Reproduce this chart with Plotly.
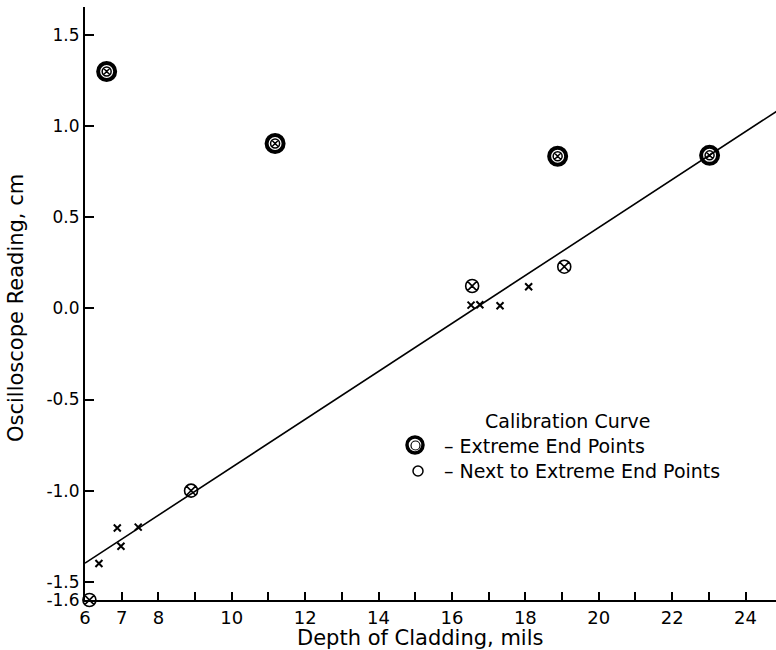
import plotly.graph_objects as go

# Data
extreme_x = [6.59, 11.18, 18.88, 23.02]
extreme_y = [1.30, 0.905, 0.835, 0.84]

next_x = [6.12, 8.89, 16.55, 19.06]
next_y = [-1.60, -1.00, 0.123, 0.229]

cross_x = [6.38, 6.88, 6.98, 7.45, 16.52, 16.76, 17.31, 18.09]
cross_y = [-1.40, -1.205, -1.305, -1.20, 0.018, 0.020, 0.015, 0.119]

curve_x = [6.0, 24.85]
curve_y = [-1.398, 1.082]

x_tickvals = list(range(6, 25))
x_ticktext = ["6", "7", "8", "", "10", "", "12", "", "14", "", "16", "", "18", "",
              "20", "", "22", "", "24"]
y_tickvals = [-1.6, -1.5, -1.0, -0.5, 0.0, 0.5, 1.0, 1.5]
y_ticktext = ["-1.6", "-1.5", "-1.0", "-0.5", "0.0", "0.5", "1.0", "1.5"]

FONT = "DejaVu Sans"

fig = go.Figure()
fig.add_trace(go.Scatter(x=curve_x, y=curve_y, mode="lines",
                         line=dict(color="black", width=1.6), cliponaxis=False))
fig.add_trace(go.Scatter(x=cross_x, y=cross_y, mode="markers",
                         marker=dict(symbol="x-thin-open", size=7, color="black",
                                     line=dict(color="black", width=2))))
fig.add_trace(go.Scatter(x=next_x, y=next_y, mode="markers", cliponaxis=False,
                         marker=dict(symbol="circle-x-open", size=13, color="black",
                                     line=dict(color="black", width=1.6))))
fig.add_trace(go.Scatter(x=extreme_x, y=extreme_y, mode="markers",
                         marker=dict(symbol="circle-open", size=17, color="black",
                                     line=dict(color="black", width=4))))
fig.add_trace(go.Scatter(x=extreme_x, y=extreme_y, mode="markers",
                         marker=dict(symbol="circle-x-open", size=9, color="black",
                                     line=dict(color="black", width=1.5))))

L, T, B = 85, 7, 50
PW, PH = 776 - L, 650 - T - B


def px(xp):
    return (xp - L) / PW


def py(yp):
    return (650 - B - yp) / PH


LEG = dict(family=FONT, size=19, color="black")
# Legend block
fig.add_annotation(x=px(567), y=py(421), xref="paper", yref="paper",
                   text="Calibration Curve", showarrow=False, font=LEG,
                   xanchor="center", yanchor="middle")
fig.add_annotation(x=px(442), y=py(446), xref="paper", yref="paper",
                   text="– Extreme End Points", showarrow=False, font=LEG,
                   xanchor="left", yanchor="middle")
fig.add_annotation(x=px(442), y=py(471), xref="paper", yref="paper",
                   text="– Next to Extreme End Points", showarrow=False, font=LEG,
                   xanchor="left", yanchor="middle")
# legend glyphs
fig.add_shape(type="circle", xref="paper", yref="paper",
              x0=px(407), x1=px(423), y0=py(453), y1=py(437),
              line=dict(color="black", width=3.5))
fig.add_shape(type="circle", xref="paper", yref="paper",
              x0=px(411), x1=px(420), y0=py(450), y1=py(441),
              line=dict(color="black", width=1.2))
fig.add_shape(type="circle", xref="paper", yref="paper",
              x0=px(413), x1=px(423), y0=py(476), y1=py(466),
              line=dict(color="black", width=1.5))

# Axis titles
TITLE = dict(family=FONT, size=21, color="black")
fig.add_annotation(x=px(420), y=py(638), xref="paper", yref="paper",
                   text="Depth of Cladding, mils", showarrow=False, font=TITLE,
                   xanchor="center", yanchor="middle")
fig.add_annotation(x=px(16), y=py(308), xref="paper", yref="paper",
                   text="Oscilloscope Reading, cm", showarrow=False, font=TITLE,
                   textangle=-90, xanchor="center", yanchor="middle")

fig.update_layout(
    width=776, height=650,
    margin=dict(l=L, r=0, t=T, b=B),
    paper_bgcolor="white", plot_bgcolor="white",
    showlegend=False,
    font=dict(family=FONT, size=18, color="black"),
    xaxis=dict(range=[6, 24.83], tickvals=x_tickvals, ticktext=x_ticktext,
               ticks="inside", ticklen=8, tickwidth=1.5, tickcolor="black",
               showline=True, linecolor="black", linewidth=2,
               showgrid=False, zeroline=False, automargin=False,
               tickfont=dict(family=FONT, size=18)),
    yaxis=dict(range=[-1.6, 1.654], tickvals=y_tickvals, ticktext=y_ticktext,
               ticks="inside", ticklen=9, tickwidth=1.5, tickcolor="black",
               showline=True, linecolor="black", linewidth=2,
               showgrid=False, zeroline=False, automargin=False,
               tickfont=dict(family=FONT, size=17)),
)

fig.write_html(
    "out.html",
    config={"displayModeBar": False},
    post_script="document.body.style.margin='0';document.body.style.overflow='hidden';",
)
